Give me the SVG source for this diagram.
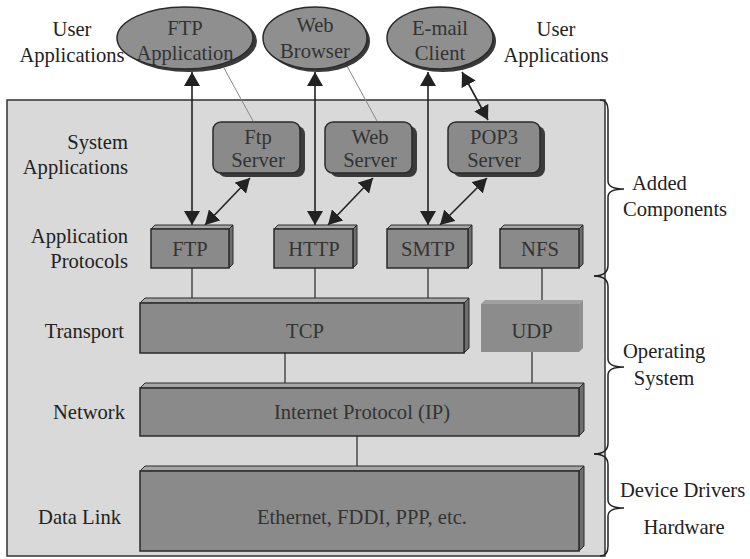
<svg xmlns="http://www.w3.org/2000/svg" width="750" height="559" viewBox="0 0 750 559" font-family="Liberation Serif, serif">
<style>
text{font-family:'Liberation Serif',serif;font-size:20.6px;fill:#222}
.c{text-anchor:middle}
.r{text-anchor:end}
.in{fill:#333}
.face{fill:#8a8a8a;stroke:#2a2a2a;stroke-width:1.5}
.bev{fill:#a6a6a6;stroke:#2a2a2a;stroke-width:1}
.side{fill:#6e6e6e;stroke:#2a2a2a;stroke-width:1}
.ell{fill:#8f8f8f;stroke:#2a2a2a;stroke-width:1.5}
.shad{fill:#3a3a3a}
.srv{fill:#8a8a8a;stroke:#2a2a2a;stroke-width:1.5}
.ln{stroke:#333;stroke-width:1.3;fill:none}
.thin{stroke:#888;stroke-width:1;fill:none}
.arr{stroke:#222;stroke-width:1.6;fill:none;marker-start:url(#ah);marker-end:url(#ah)}
.brace{stroke:#222;stroke-width:1.5;fill:none}
</style>
<defs>
<marker id="ah" viewBox="0 0 14 16" refX="14" refY="8" markerWidth="14" markerHeight="16" markerUnits="userSpaceOnUse" orient="auto-start-reverse">
<path d="M0,0 L14,8 L0,16 Z" fill="#222"/>
</marker>
</defs>
<rect width="750" height="559" fill="#fff"/>
<g id="panel">
<rect x="7" y="100" width="598" height="456" fill="#d9d9d9" stroke="#333" stroke-width="1.5"/>
</g>
<g id="labels">
<text class="c" x="72" y="36">User</text>
<text class="c" x="72" y="62">Applications</text>
<text class="c" x="556" y="36">User</text>
<text class="c" x="556" y="62">Applications</text>
<text class="r" x="128" y="149">System</text>
<text class="r" x="128" y="174">Applications</text>
<text class="r" x="128" y="243">Application</text>
<text class="r" x="128" y="268">Protocols</text>
<text class="r" x="124" y="338">Transport</text>
<text class="r" x="125" y="419">Network</text>
<text class="r" x="121" y="524">Data Link</text>
<text x="632" y="190">Added</text>
<text x="623" y="216">Components</text>
<text x="623" y="358">Operating</text>
<text class="c" x="664" y="385">System</text>
<text x="620" y="497">Device Drivers</text>
<text class="c" x="684" y="534">Hardware</text>
</g>
<g id="braces">
<path class="brace" d="M600,100 Q608,100 608,110 L608,181 Q608,189 624,189 Q608,189 608,197 L608,265 Q608,276 594,276"/>
<path class="brace" d="M594,276 Q608,276 608,287 L608,359 Q608,367 624,367 Q608,367 608,375 L608,443 Q608,454 594,454"/>
<path class="brace" d="M594,454 Q608,454 608,465 L608,500 Q608,508 624,508 Q608,508 608,516 L608,546 Q608,556 600,556"/>
</g>
<g id="connectors">
<line class="thin" x1="224" y1="68" x2="253" y2="121"/>
<line class="thin" x1="347" y1="66" x2="377" y2="121"/>
<line class="arr" x1="192" y1="72" x2="192" y2="225"/>
<line class="arr" x1="315" y1="72" x2="315" y2="225"/>
<line class="arr" x1="428" y1="72" x2="428" y2="225"/>
<line class="arr" x1="462" y1="72" x2="488" y2="120"/>
<line class="arr" x1="250" y1="178" x2="205" y2="225"/>
<line class="arr" x1="373" y1="178" x2="328" y2="225"/>
<line class="arr" x1="487" y1="178" x2="440" y2="225"/>
<line class="ln" x1="192" y1="268" x2="192" y2="298"/>
<line class="ln" x1="315" y1="268" x2="315" y2="298"/>
<line class="ln" x1="428" y1="268" x2="428" y2="298"/>
<line class="ln" x1="542" y1="268" x2="542" y2="300"/>
<line class="ln" x1="285" y1="353" x2="285" y2="383"/>
<line class="ln" x1="532" y1="352" x2="532" y2="383"/>
<line class="ln" x1="357" y1="436" x2="357" y2="466"/>
</g>
<g id="ftp-app">
<ellipse class="shad" cx="189" cy="41" rx="68" ry="31"/>
<ellipse class="ell" cx="185" cy="38" rx="68" ry="31"/>
<text class="c in" x="185" y="35">FTP</text>
<text class="c in" x="185" y="60">Application</text>
</g>
<g id="web-browser">
<ellipse class="shad" cx="318" cy="41" rx="52" ry="31"/>
<ellipse class="ell" cx="315" cy="38" rx="52" ry="31"/>
<text class="c in" x="315" y="32">Web</text>
<text class="c in" x="315" y="58">Browser</text>
</g>
<g id="email-client">
<ellipse class="shad" cx="443" cy="41" rx="53" ry="31"/>
<ellipse class="ell" cx="440" cy="38" rx="53" ry="31"/>
<text class="c in" x="440" y="35">E-mail</text>
<text class="c in" x="440" y="60">Client</text>
</g>
<g id="ftp-server">
<rect class="shad" x="218" y="126" width="87" height="51" rx="8"/>
<rect class="srv" x="213" y="122" width="87" height="51" rx="8"/>
<text class="c in" x="258" y="144">Ftp</text>
<text class="c in" x="258" y="167">Server</text>
</g>
<g id="web-server">
<rect class="shad" x="330" y="126" width="87" height="51" rx="8"/>
<rect class="srv" x="325" y="122" width="87" height="51" rx="8"/>
<text class="c in" x="370" y="144">Web</text>
<text class="c in" x="370" y="167">Server</text>
</g>
<g id="pop3-server">
<rect class="shad" x="453" y="126" width="92" height="51" rx="8"/>
<rect class="srv" x="448" y="122" width="92" height="51" rx="8"/>
<text class="c in" x="494" y="144">POP3</text>
<text class="c in" x="494" y="167">Server</text>
</g>
<g id="ftp">
<polygon class="bev" points="151,229 155,225 233,225 229,229"/>
<polygon class="side" points="229,229 233,225 233,264 229,268"/>
<rect class="face" x="151" y="229" width="78" height="39"/>
<text class="c in" x="190" y="256">FTP</text>
</g>
<g id="http">
<polygon class="bev" points="274,229 278,225 357,225 353,229"/>
<polygon class="side" points="353,229 357,225 357,264 353,268"/>
<rect class="face" x="274" y="229" width="79" height="39"/>
<text class="c in" x="314" y="256">HTTP</text>
</g>
<g id="smtp">
<polygon class="bev" points="387,229 391,225 472,225 468,229"/>
<polygon class="side" points="468,229 472,225 472,264 468,268"/>
<rect class="face" x="387" y="229" width="81" height="39"/>
<text class="c in" x="428" y="256">SMTP</text>
</g>
<g id="nfs">
<polygon class="bev" points="500,229 504,225 583,225 579,229"/>
<polygon class="side" points="579,229 583,225 583,264 579,268"/>
<rect class="face" x="500" y="229" width="79" height="39"/>
<text class="c in" x="540" y="256">NFS</text>
</g>
<g id="tcp">
<polygon class="bev" points="140,303 145,298 469,298 464,303"/>
<polygon class="side" points="464,303 469,298 469,348 464,353"/>
<rect class="face" x="140" y="303" width="324" height="50"/>
<text class="c in" x="305" y="338">TCP</text>
</g>
<g id="udp">
<polygon points="481,304 485,300 583,300 579,304" fill="#a0a0a0"/>
<polygon points="579,304 583,300 583,348 579,352" fill="#909090"/>
<rect x="481" y="304" width="98" height="48" fill="#8c8c8c"/>
<text class="c in" x="532" y="338">UDP</text>
</g>
<g id="ip">
<polygon class="bev" points="140,388 145,383 584,383 579,388"/>
<polygon class="side" points="579,388 584,383 584,431 579,436"/>
<rect class="face" x="140" y="388" width="439" height="48"/>
<text class="c in" x="362" y="419">Internet Protocol (IP)</text>
</g>
<g id="datalink">
<polygon class="bev" points="140,471 145,466 584,466 579,471"/>
<polygon class="side" points="579,471 584,466 584,546 579,551"/>
<rect class="face" x="140" y="471" width="439" height="80"/>
<text class="c in" x="362" y="524">Ethernet, FDDI, PPP, etc.</text>
</g>
</svg>
